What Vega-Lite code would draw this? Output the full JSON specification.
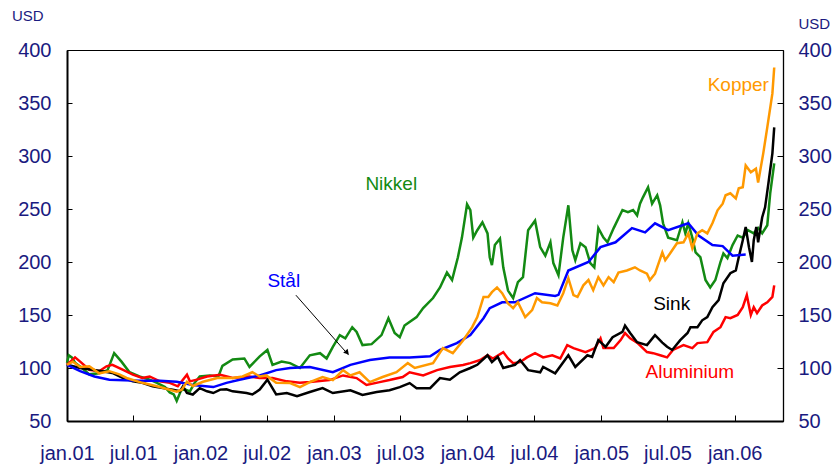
{
"$schema": "https://vega.github.io/schema/vega-lite/v6.json",
"width": 716, "height": 371,
"autosize": {"type": "none"},
"padding": {"left": 67, "top": 50, "right": 52, "bottom": 45},
"background": "white",
"config": {"view": {"stroke": "black", "strokeWidth": 1}, "font": "Liberation Sans"},
"datasets": {
"series": [
{"metal":"Nikkel","date":"2001-01-01","value":105},{"metal":"Nikkel","date":"2001-01-06","value":112},{"metal":"Nikkel","date":"2001-01-14","value":110},{"metal":"Nikkel","date":"2001-01-23","value":105},{"metal":"Nikkel","date":"2001-02-11","value":100},{"metal":"Nikkel","date":"2001-03-03","value":94},{"metal":"Nikkel","date":"2001-03-30","value":95},{"metal":"Nikkel","date":"2001-04-22","value":98},{"metal":"Nikkel","date":"2001-05-10","value":114},{"metal":"Nikkel","date":"2001-05-30","value":106},{"metal":"Nikkel","date":"2001-06-21","value":96},{"metal":"Nikkel","date":"2001-07-18","value":92},{"metal":"Nikkel","date":"2001-08-15","value":89},{"metal":"Nikkel","date":"2001-09-04","value":86},{"metal":"Nikkel","date":"2001-09-26","value":82},{"metal":"Nikkel","date":"2001-10-09","value":77},{"metal":"Nikkel","date":"2001-10-20","value":75},{"metal":"Nikkel","date":"2001-10-28","value":69},{"metal":"Nikkel","date":"2001-11-09","value":79},{"metal":"Nikkel","date":"2001-11-19","value":80},{"metal":"Nikkel","date":"2001-12-03","value":78},{"metal":"Nikkel","date":"2001-12-16","value":86},{"metal":"Nikkel","date":"2001-12-30","value":92},{"metal":"Nikkel","date":"2002-01-27","value":93},{"metal":"Nikkel","date":"2002-02-19","value":92},{"metal":"Nikkel","date":"2002-03-02","value":102},{"metal":"Nikkel","date":"2002-03-30","value":108},{"metal":"Nikkel","date":"2002-05-01","value":109},{"metal":"Nikkel","date":"2002-05-15","value":101},{"metal":"Nikkel","date":"2002-06-12","value":111},{"metal":"Nikkel","date":"2002-07-03","value":117},{"metal":"Nikkel","date":"2002-07-17","value":103},{"metal":"Nikkel","date":"2002-08-11","value":106},{"metal":"Nikkel","date":"2002-09-03","value":104.6},{"metal":"Nikkel","date":"2002-09-30","value":100},{"metal":"Nikkel","date":"2002-10-27","value":112},{"metal":"Nikkel","date":"2002-11-24","value":114},{"metal":"Nikkel","date":"2002-12-12","value":109},{"metal":"Nikkel","date":"2002-12-29","value":120},{"metal":"Nikkel","date":"2003-01-17","value":131},{"metal":"Nikkel","date":"2003-02-01","value":128},{"metal":"Nikkel","date":"2003-02-20","value":138.5},{"metal":"Nikkel","date":"2003-03-04","value":134},{"metal":"Nikkel","date":"2003-03-20","value":121.6},{"metal":"Nikkel","date":"2003-04-14","value":122.5},{"metal":"Nikkel","date":"2003-05-11","value":131},{"metal":"Nikkel","date":"2003-05-30","value":147},{"metal":"Nikkel","date":"2003-06-16","value":133},{"metal":"Nikkel","date":"2003-06-30","value":129},{"metal":"Nikkel","date":"2003-07-13","value":140},{"metal":"Nikkel","date":"2003-08-15","value":148},{"metal":"Nikkel","date":"2003-09-02","value":156.5},{"metal":"Nikkel","date":"2003-09-29","value":166},{"metal":"Nikkel","date":"2003-10-18","value":176},{"metal":"Nikkel","date":"2003-11-06","value":190},{"metal":"Nikkel","date":"2003-11-20","value":183},{"metal":"Nikkel","date":"2003-12-06","value":204.5},{"metal":"Nikkel","date":"2003-12-17","value":223},{"metal":"Nikkel","date":"2003-12-31","value":254.5},{"metal":"Nikkel","date":"2004-01-09","value":249},{"metal":"Nikkel","date":"2004-01-17","value":223},{"metal":"Nikkel","date":"2004-01-28","value":230},{"metal":"Nikkel","date":"2004-02-11","value":237.5},{"metal":"Nikkel","date":"2004-02-25","value":227},{"metal":"Nikkel","date":"2004-03-02","value":204.5},{"metal":"Nikkel","date":"2004-03-08","value":197},{"metal":"Nikkel","date":"2004-03-16","value":216},{"metal":"Nikkel","date":"2004-03-30","value":222},{"metal":"Nikkel","date":"2004-04-08","value":195},{"metal":"Nikkel","date":"2004-04-21","value":173},{"metal":"Nikkel","date":"2004-05-05","value":166},{"metal":"Nikkel","date":"2004-05-18","value":181},{"metal":"Nikkel","date":"2004-06-01","value":185.7},{"metal":"Nikkel","date":"2004-06-15","value":230},{"metal":"Nikkel","date":"2004-07-04","value":239},{"metal":"Nikkel","date":"2004-07-18","value":214},{"metal":"Nikkel","date":"2004-08-01","value":206},{"metal":"Nikkel","date":"2004-08-15","value":218.6},{"metal":"Nikkel","date":"2004-08-23","value":199},{"metal":"Nikkel","date":"2004-09-06","value":187.5},{"metal":"Nikkel","date":"2004-09-19","value":223},{"metal":"Nikkel","date":"2004-10-03","value":253.5},{"metal":"Nikkel","date":"2004-10-14","value":211},{"metal":"Nikkel","date":"2004-10-22","value":201.7},{"metal":"Nikkel","date":"2004-11-05","value":217.7},{"metal":"Nikkel","date":"2004-11-19","value":214},{"metal":"Nikkel","date":"2004-12-02","value":199},{"metal":"Nikkel","date":"2004-12-13","value":195},{"metal":"Nikkel","date":"2004-12-24","value":232},{"metal":"Nikkel","date":"2005-01-07","value":223},{"metal":"Nikkel","date":"2005-01-18","value":218.6},{"metal":"Nikkel","date":"2005-02-04","value":232},{"metal":"Nikkel","date":"2005-02-28","value":249},{"metal":"Nikkel","date":"2005-03-15","value":247},{"metal":"Nikkel","date":"2005-03-29","value":249},{"metal":"Nikkel","date":"2005-04-09","value":244},{"metal":"Nikkel","date":"2005-04-17","value":255},{"metal":"Nikkel","date":"2005-04-25","value":261},{"metal":"Nikkel","date":"2005-05-09","value":270.5},{"metal":"Nikkel","date":"2005-05-20","value":255},{"metal":"Nikkel","date":"2005-06-03","value":263},{"metal":"Nikkel","date":"2005-06-11","value":253.5},{"metal":"Nikkel","date":"2005-06-19","value":236.5},{"metal":"Nikkel","date":"2005-07-03","value":223},{"metal":"Nikkel","date":"2005-07-27","value":220.5},{"metal":"Nikkel","date":"2005-08-11","value":237.5},{"metal":"Nikkel","date":"2005-08-19","value":227},{"metal":"Nikkel","date":"2005-08-27","value":236.5},{"metal":"Nikkel","date":"2005-09-07","value":223},{"metal":"Nikkel","date":"2005-09-16","value":209},{"metal":"Nikkel","date":"2005-09-29","value":204.5},{"metal":"Nikkel","date":"2005-10-13","value":183},{"metal":"Nikkel","date":"2005-10-26","value":176},{"metal":"Nikkel","date":"2005-11-09","value":183},{"metal":"Nikkel","date":"2005-11-23","value":200},{"metal":"Nikkel","date":"2005-12-01","value":208},{"metal":"Nikkel","date":"2005-12-12","value":203.6},{"metal":"Nikkel","date":"2005-12-26","value":216},{"metal":"Nikkel","date":"2006-01-09","value":225},{"metal":"Nikkel","date":"2006-01-23","value":223},{"metal":"Nikkel","date":"2006-02-06","value":230},{"metal":"Nikkel","date":"2006-02-22","value":227},{"metal":"Nikkel","date":"2006-03-06","value":232},{"metal":"Nikkel","date":"2006-03-17","value":227},{"metal":"Nikkel","date":"2006-03-31","value":234.7},{"metal":"Nikkel","date":"2006-04-08","value":264.8},{"metal":"Nikkel","date":"2006-04-19","value":293},
{"metal":"Aluminium","date":"2001-01-01","value":103},{"metal":"Aluminium","date":"2001-01-23","value":110},{"metal":"Aluminium","date":"2001-02-06","value":106},{"metal":"Aluminium","date":"2001-03-03","value":98.4},{"metal":"Aluminium","date":"2001-03-30","value":97},{"metal":"Aluminium","date":"2001-04-19","value":101.6},{"metal":"Aluminium","date":"2001-05-05","value":103},{"metal":"Aluminium","date":"2001-06-02","value":98.4},{"metal":"Aluminium","date":"2001-06-30","value":93.7},{"metal":"Aluminium","date":"2001-07-26","value":90.6},{"metal":"Aluminium","date":"2001-08-15","value":92},{"metal":"Aluminium","date":"2001-09-12","value":87.4},{"metal":"Aluminium","date":"2001-10-09","value":86},{"metal":"Aluminium","date":"2001-10-31","value":82.7},{"metal":"Aluminium","date":"2001-11-14","value":89},{"metal":"Aluminium","date":"2001-11-25","value":93.7},{"metal":"Aluminium","date":"2001-12-03","value":87.4},{"metal":"Aluminium","date":"2001-12-22","value":89},{"metal":"Aluminium","date":"2002-01-19","value":92},{"metal":"Aluminium","date":"2002-02-24","value":93.7},{"metal":"Aluminium","date":"2002-03-30","value":90.6},{"metal":"Aluminium","date":"2002-05-15","value":92},{"metal":"Aluminium","date":"2002-06-12","value":90.6},{"metal":"Aluminium","date":"2002-07-17","value":90.6},{"metal":"Aluminium","date":"2002-08-25","value":87.4},{"metal":"Aluminium","date":"2002-09-30","value":86},{"metal":"Aluminium","date":"2002-10-27","value":86.7},{"metal":"Aluminium","date":"2002-12-20","value":88.6},{"metal":"Aluminium","date":"2003-01-26","value":93},{"metal":"Aluminium","date":"2003-03-04","value":90.5},{"metal":"Aluminium","date":"2003-03-31","value":84},{"metal":"Aluminium","date":"2003-05-06","value":86.7},{"metal":"Aluminium","date":"2003-06-02","value":88.6},{"metal":"Aluminium","date":"2003-07-08","value":91.5},{"metal":"Aluminium","date":"2003-07-27","value":96},{"metal":"Aluminium","date":"2003-09-02","value":93},{"metal":"Aluminium","date":"2003-10-10","value":98},{"metal":"Aluminium","date":"2003-11-14","value":101},{"metal":"Aluminium","date":"2003-12-20","value":102.8},{"metal":"Aluminium","date":"2004-01-09","value":104.6},{"metal":"Aluminium","date":"2004-02-05","value":107.5},{"metal":"Aluminium","date":"2004-02-25","value":112},{"metal":"Aluminium","date":"2004-03-11","value":109},{"metal":"Aluminium","date":"2004-04-08","value":115},{"metal":"Aluminium","date":"2004-04-21","value":109},{"metal":"Aluminium","date":"2004-05-05","value":104.6},{"metal":"Aluminium","date":"2004-05-24","value":105.5},{"metal":"Aluminium","date":"2004-06-12","value":110},{"metal":"Aluminium","date":"2004-07-04","value":114},{"metal":"Aluminium","date":"2004-07-26","value":110},{"metal":"Aluminium","date":"2004-08-20","value":112},{"metal":"Aluminium","date":"2004-09-11","value":109},{"metal":"Aluminium","date":"2004-09-30","value":121.6},{"metal":"Aluminium","date":"2004-10-17","value":118.8},{"metal":"Aluminium","date":"2004-11-19","value":115},{"metal":"Aluminium","date":"2004-12-15","value":118.8},{"metal":"Aluminium","date":"2004-12-30","value":128},{"metal":"Aluminium","date":"2005-01-07","value":118.8},{"metal":"Aluminium","date":"2005-02-04","value":118.8},{"metal":"Aluminium","date":"2005-02-23","value":126.3},{"metal":"Aluminium","date":"2005-03-07","value":133},{"metal":"Aluminium","date":"2005-03-21","value":128},{"metal":"Aluminium","date":"2005-04-09","value":124},{"metal":"Aluminium","date":"2005-05-06","value":115},{"metal":"Aluminium","date":"2005-05-23","value":114},{"metal":"Aluminium","date":"2005-06-11","value":112},{"metal":"Aluminium","date":"2005-06-30","value":110},{"metal":"Aluminium","date":"2005-07-16","value":117},{"metal":"Aluminium","date":"2005-08-14","value":121.6},{"metal":"Aluminium","date":"2005-09-07","value":118.8},{"metal":"Aluminium","date":"2005-09-21","value":123.5},{"metal":"Aluminium","date":"2005-10-18","value":124.4},{"metal":"Aluminium","date":"2005-11-04","value":134},{"metal":"Aluminium","date":"2005-11-23","value":138.5},{"metal":"Aluminium","date":"2005-12-07","value":148},{"metal":"Aluminium","date":"2005-12-20","value":147},{"metal":"Aluminium","date":"2006-01-09","value":150},{"metal":"Aluminium","date":"2006-01-23","value":157.4},{"metal":"Aluminium","date":"2006-02-03","value":168.7},{"metal":"Aluminium","date":"2006-02-14","value":150},{"metal":"Aluminium","date":"2006-02-22","value":157.4},{"metal":"Aluminium","date":"2006-03-03","value":151.7},{"metal":"Aluminium","date":"2006-03-17","value":159},{"metal":"Aluminium","date":"2006-03-31","value":162},{"metal":"Aluminium","date":"2006-04-14","value":167},{"metal":"Aluminium","date":"2006-04-19","value":178},
{"metal":"Sink","date":"2001-01-01","value":103},{"metal":"Sink","date":"2001-02-06","value":100},{"metal":"Sink","date":"2001-03-11","value":98.4},{"metal":"Sink","date":"2001-04-08","value":97},{"metal":"Sink","date":"2001-05-05","value":95.3},{"metal":"Sink","date":"2001-06-02","value":90.6},{"metal":"Sink","date":"2001-06-30","value":87.4},{"metal":"Sink","date":"2001-07-26","value":86},{"metal":"Sink","date":"2001-08-23","value":82.7},{"metal":"Sink","date":"2001-09-20","value":81},{"metal":"Sink","date":"2001-10-17","value":79.6},{"metal":"Sink","date":"2001-11-06","value":78},{"metal":"Sink","date":"2001-11-14","value":82.7},{"metal":"Sink","date":"2001-11-25","value":76.4},{"metal":"Sink","date":"2001-12-11","value":75},{"metal":"Sink","date":"2001-12-30","value":81},{"metal":"Sink","date":"2002-01-19","value":78},{"metal":"Sink","date":"2002-02-05","value":76.4},{"metal":"Sink","date":"2002-02-24","value":79.6},{"metal":"Sink","date":"2002-03-13","value":80},{"metal":"Sink","date":"2002-03-30","value":78},{"metal":"Sink","date":"2002-05-07","value":76.4},{"metal":"Sink","date":"2002-05-23","value":75},{"metal":"Sink","date":"2002-06-12","value":79.6},{"metal":"Sink","date":"2002-07-03","value":89},{"metal":"Sink","date":"2002-07-27","value":75},{"metal":"Sink","date":"2002-08-25","value":76.4},{"metal":"Sink","date":"2002-09-22","value":73.3},{"metal":"Sink","date":"2002-10-27","value":77.3},{"metal":"Sink","date":"2002-12-01","value":81},{"metal":"Sink","date":"2002-12-29","value":76.4},{"metal":"Sink","date":"2003-02-15","value":79},{"metal":"Sink","date":"2003-03-20","value":74.5},{"metal":"Sink","date":"2003-04-28","value":77.3},{"metal":"Sink","date":"2003-06-02","value":79},{"metal":"Sink","date":"2003-06-30","value":82},{"metal":"Sink","date":"2003-07-27","value":85.8},{"metal":"Sink","date":"2003-08-15","value":81},{"metal":"Sink","date":"2003-09-21","value":81},{"metal":"Sink","date":"2003-10-18","value":90.5},{"metal":"Sink","date":"2003-11-14","value":89},{"metal":"Sink","date":"2003-12-11","value":96},{"metal":"Sink","date":"2004-01-09","value":100},{"metal":"Sink","date":"2004-01-28","value":103},{"metal":"Sink","date":"2004-02-25","value":112},{"metal":"Sink","date":"2004-03-08","value":105.5},{"metal":"Sink","date":"2004-03-24","value":110.5},{"metal":"Sink","date":"2004-04-08","value":100},{"metal":"Sink","date":"2004-05-10","value":103},{"metal":"Sink","date":"2004-05-24","value":107.5},{"metal":"Sink","date":"2004-06-15","value":98},{"metal":"Sink","date":"2004-07-18","value":96},{"metal":"Sink","date":"2004-07-26","value":101},{"metal":"Sink","date":"2004-08-28","value":95},{"metal":"Sink","date":"2004-10-03","value":112},{"metal":"Sink","date":"2004-10-22","value":101},{"metal":"Sink","date":"2004-11-24","value":112},{"metal":"Sink","date":"2004-12-07","value":110.5},{"metal":"Sink","date":"2004-12-24","value":126.3},{"metal":"Sink","date":"2005-01-13","value":120},{"metal":"Sink","date":"2005-02-01","value":129},{"metal":"Sink","date":"2005-02-28","value":134},{"metal":"Sink","date":"2005-03-07","value":140},{"metal":"Sink","date":"2005-03-21","value":133},{"metal":"Sink","date":"2005-04-09","value":124.4},{"metal":"Sink","date":"2005-05-06","value":121.6},{"metal":"Sink","date":"2005-05-28","value":131},{"metal":"Sink","date":"2005-06-17","value":124},{"metal":"Sink","date":"2005-06-30","value":120},{"metal":"Sink","date":"2005-07-14","value":117},{"metal":"Sink","date":"2005-08-05","value":126.3},{"metal":"Sink","date":"2005-08-25","value":133},{"metal":"Sink","date":"2005-09-02","value":138.5},{"metal":"Sink","date":"2005-09-21","value":138.5},{"metal":"Sink","date":"2005-10-04","value":145},{"metal":"Sink","date":"2005-10-18","value":148},{"metal":"Sink","date":"2005-11-01","value":157.4},{"metal":"Sink","date":"2005-11-18","value":164},{"metal":"Sink","date":"2005-12-01","value":180},{"metal":"Sink","date":"2005-12-20","value":189.4},{"metal":"Sink","date":"2006-01-04","value":192},{"metal":"Sink","date":"2006-01-12","value":204.5},{"metal":"Sink","date":"2006-01-23","value":220.5},{"metal":"Sink","date":"2006-01-31","value":233},{"metal":"Sink","date":"2006-02-09","value":214},{"metal":"Sink","date":"2006-02-17","value":200},{"metal":"Sink","date":"2006-02-22","value":220.5},{"metal":"Sink","date":"2006-03-01","value":233},{"metal":"Sink","date":"2006-03-06","value":218.6},{"metal":"Sink","date":"2006-03-17","value":242},{"metal":"Sink","date":"2006-03-25","value":251.6},{"metal":"Sink","date":"2006-04-03","value":274},{"metal":"Sink","date":"2006-04-14","value":302.5},{"metal":"Sink","date":"2006-04-19","value":327},
{"metal":"Stål","date":"2001-01-01","value":103},{"metal":"Stål","date":"2001-02-06","value":97},{"metal":"Stål","date":"2001-03-17","value":92},{"metal":"Stål","date":"2001-04-27","value":89},{"metal":"Stål","date":"2001-07-18","value":88},{"metal":"Stål","date":"2001-09-12","value":88},{"metal":"Stål","date":"2001-10-28","value":87},{"metal":"Stål","date":"2001-12-11","value":84},{"metal":"Stål","date":"2002-02-05","value":82},{"metal":"Stål","date":"2002-03-13","value":86},{"metal":"Stål","date":"2002-04-18","value":89},{"metal":"Stål","date":"2002-06-12","value":93},{"metal":"Stål","date":"2002-07-27","value":98},{"metal":"Stål","date":"2002-09-03","value":100},{"metal":"Stål","date":"2002-10-27","value":101},{"metal":"Stål","date":"2002-12-29","value":96},{"metal":"Stål","date":"2003-02-15","value":103},{"metal":"Stål","date":"2003-04-09","value":107.5},{"metal":"Stål","date":"2003-06-02","value":110},{"metal":"Stål","date":"2003-07-27","value":110},{"metal":"Stål","date":"2003-09-21","value":111},{"metal":"Stål","date":"2003-10-18","value":117},{"metal":"Stål","date":"2003-12-03","value":123.5},{"metal":"Stål","date":"2004-01-09","value":131},{"metal":"Stål","date":"2004-02-14","value":147},{"metal":"Stål","date":"2004-03-02","value":156.5},{"metal":"Stål","date":"2004-04-05","value":162},{"metal":"Stål","date":"2004-05-10","value":162},{"metal":"Stål","date":"2004-07-04","value":170.6},{"metal":"Stål","date":"2004-08-28","value":168},{"metal":"Stål","date":"2004-09-06","value":169},{"metal":"Stål","date":"2004-10-03","value":192},{"metal":"Stål","date":"2004-11-27","value":200},{"metal":"Stål","date":"2004-12-30","value":214},{"metal":"Stål","date":"2005-02-09","value":218.6},{"metal":"Stål","date":"2005-03-26","value":232},{"metal":"Stål","date":"2005-05-01","value":228},{"metal":"Stål","date":"2005-05-28","value":236.5},{"metal":"Stål","date":"2005-07-03","value":230},{"metal":"Stål","date":"2005-08-27","value":236.5},{"metal":"Stål","date":"2005-09-24","value":225},{"metal":"Stål","date":"2005-11-01","value":216},{"metal":"Stål","date":"2005-11-29","value":215},{"metal":"Stål","date":"2005-12-26","value":206},{"metal":"Stål","date":"2006-01-31","value":207},
{"metal":"Kopper","date":"2001-01-01","value":103},{"metal":"Kopper","date":"2001-01-17","value":106},{"metal":"Kopper","date":"2001-02-06","value":101},{"metal":"Kopper","date":"2001-03-03","value":101.6},{"metal":"Kopper","date":"2001-03-30","value":95},{"metal":"Kopper","date":"2001-04-27","value":97},{"metal":"Kopper","date":"2001-05-24","value":94},{"metal":"Kopper","date":"2001-06-13","value":90.6},{"metal":"Kopper","date":"2001-07-26","value":86},{"metal":"Kopper","date":"2001-09-12","value":82},{"metal":"Kopper","date":"2001-10-28","value":77.6},{"metal":"Kopper","date":"2001-11-11","value":79.6},{"metal":"Kopper","date":"2001-11-25","value":87},{"metal":"Kopper","date":"2001-12-11","value":83},{"metal":"Kopper","date":"2002-01-08","value":87},{"metal":"Kopper","date":"2002-02-16","value":90.6},{"metal":"Kopper","date":"2002-03-30","value":90.6},{"metal":"Kopper","date":"2002-04-26","value":92},{"metal":"Kopper","date":"2002-05-23","value":96},{"metal":"Kopper","date":"2002-06-12","value":92},{"metal":"Kopper","date":"2002-06-30","value":93},{"metal":"Kopper","date":"2002-07-27","value":86},{"metal":"Kopper","date":"2002-09-03","value":85.8},{"metal":"Kopper","date":"2002-09-30","value":82},{"metal":"Kopper","date":"2002-10-27","value":86.7},{"metal":"Kopper","date":"2002-12-01","value":91.5},{"metal":"Kopper","date":"2002-12-29","value":88.6},{"metal":"Kopper","date":"2003-01-26","value":98},{"metal":"Kopper","date":"2003-02-15","value":93},{"metal":"Kopper","date":"2003-03-12","value":96},{"metal":"Kopper","date":"2003-04-09","value":86.7},{"metal":"Kopper","date":"2003-05-14","value":91.5},{"metal":"Kopper","date":"2003-06-21","value":96},{"metal":"Kopper","date":"2003-07-22","value":104.6},{"metal":"Kopper","date":"2003-08-10","value":100},{"metal":"Kopper","date":"2003-09-29","value":104.6},{"metal":"Kopper","date":"2003-10-26","value":118.8},{"metal":"Kopper","date":"2003-11-22","value":114},{"metal":"Kopper","date":"2003-12-20","value":126},{"metal":"Kopper","date":"2004-01-14","value":138.5},{"metal":"Kopper","date":"2004-01-28","value":148},{"metal":"Kopper","date":"2004-02-14","value":167},{"metal":"Kopper","date":"2004-02-27","value":167},{"metal":"Kopper","date":"2004-03-08","value":171.5},{"metal":"Kopper","date":"2004-03-22","value":176},{"metal":"Kopper","date":"2004-04-05","value":170.6},{"metal":"Kopper","date":"2004-04-21","value":161},{"metal":"Kopper","date":"2004-05-05","value":156.5},{"metal":"Kopper","date":"2004-05-18","value":162},{"metal":"Kopper","date":"2004-06-07","value":148},{"metal":"Kopper","date":"2004-06-26","value":154.6},{"metal":"Kopper","date":"2004-07-09","value":166},{"metal":"Kopper","date":"2004-07-23","value":162},{"metal":"Kopper","date":"2004-08-15","value":161},{"metal":"Kopper","date":"2004-09-03","value":159},{"metal":"Kopper","date":"2004-09-19","value":170.6},{"metal":"Kopper","date":"2004-10-03","value":184.7},{"metal":"Kopper","date":"2004-10-17","value":168.7},{"metal":"Kopper","date":"2004-10-28","value":167},{"metal":"Kopper","date":"2004-11-13","value":178},{"metal":"Kopper","date":"2004-11-27","value":183},{"metal":"Kopper","date":"2004-12-10","value":173.4},{"metal":"Kopper","date":"2004-12-24","value":185.7},{"metal":"Kopper","date":"2005-01-07","value":178},{"metal":"Kopper","date":"2005-01-21","value":185.7},{"metal":"Kopper","date":"2005-02-04","value":181},{"metal":"Kopper","date":"2005-02-17","value":190},{"metal":"Kopper","date":"2005-03-12","value":192},{"metal":"Kopper","date":"2005-04-03","value":195},{"metal":"Kopper","date":"2005-04-17","value":192},{"metal":"Kopper","date":"2005-05-06","value":189},{"metal":"Kopper","date":"2005-05-14","value":183},{"metal":"Kopper","date":"2005-05-28","value":189},{"metal":"Kopper","date":"2005-06-17","value":209},{"metal":"Kopper","date":"2005-06-25","value":201.7},{"metal":"Kopper","date":"2005-07-08","value":208},{"metal":"Kopper","date":"2005-07-27","value":217.7},{"metal":"Kopper","date":"2005-08-14","value":218.6},{"metal":"Kopper","date":"2005-08-27","value":227},{"metal":"Kopper","date":"2005-09-07","value":213},{"metal":"Kopper","date":"2005-09-21","value":227},{"metal":"Kopper","date":"2005-10-04","value":230},{"metal":"Kopper","date":"2005-10-18","value":227},{"metal":"Kopper","date":"2005-11-01","value":236.5},{"metal":"Kopper","date":"2005-11-15","value":248.8},{"metal":"Kopper","date":"2005-11-29","value":255},{"metal":"Kopper","date":"2005-12-07","value":263},{"metal":"Kopper","date":"2005-12-20","value":264.8},{"metal":"Kopper","date":"2006-01-04","value":260},{"metal":"Kopper","date":"2006-01-12","value":269.5},{"metal":"Kopper","date":"2006-01-23","value":270.5},{"metal":"Kopper","date":"2006-01-31","value":291},{"metal":"Kopper","date":"2006-02-14","value":284.6},{"metal":"Kopper","date":"2006-02-28","value":288},{"metal":"Kopper","date":"2006-03-06","value":275},{"metal":"Kopper","date":"2006-03-20","value":302.5},{"metal":"Kopper","date":"2006-03-31","value":327},{"metal":"Kopper","date":"2006-04-14","value":359},{"metal":"Kopper","date":"2006-04-19","value":383.5}
],
"labels": [
{"metal":"Nikkel","date":"2003-03-28","value":268.3},
{"metal":"Stål","date":"2002-07-03","value":176.2},
{"metal":"Kopper","date":"2005-10-19","value":360.9},
{"metal":"Sink","date":"2005-05-23","value":154.6},
{"metal":"Aluminium","date":"2005-05-02","value":90.2}
],
"arrow": [
{"date":"2002-09-19","value":168.7,"date2":"2003-02-10","value2":112.2}
],
"arrowhead": [
{"date":"2003-02-06","value":114.5}
]
},
"encoding": {
"x": {"field": "date", "type": "temporal",
  "scale": {"type": "utc", "domain": [{"year": 2001, "month": 1, "date": 1, "utc": true}, {"year": 2006, "month": 5, "date": 13, "utc": true}]},
  "axis": {"title": null, "grid": false,
    "values": [{"year":2001,"month":1,"date":1,"utc":true},{"year":2001,"month":7,"date":1,"utc":true},{"year":2002,"month":1,"date":1,"utc":true},{"year":2002,"month":7,"date":1,"utc":true},{"year":2003,"month":1,"date":1,"utc":true},{"year":2003,"month":7,"date":1,"utc":true},{"year":2004,"month":1,"date":1,"utc":true},{"year":2004,"month":7,"date":1,"utc":true},{"year":2005,"month":1,"date":1,"utc":true},{"year":2005,"month":7,"date":1,"utc":true},{"year":2006,"month":1,"date":1,"utc":true}],
    "labelExpr": "lower(utcFormat(datum.value, '%b')) + '.' + utcFormat(datum.value, '%y')",
    "labelFont": "Liberation Sans", "labelFontSize": 20, "labelColor": "#1a1a80",
    "labelFlush": false, "labelOverlap": false, "labelPadding": 28,
    "tickSize": -6, "tickColor": "black", "tickWidth": 1,
    "domainColor": "black", "domainWidth": 2}}
},
"layer": [
{"data": {"name": "series"},
 "mark": {"type": "line", "strokeWidth": 2.5, "clip": false},
 "encoding": {
  "y": {"field": "value", "type": "quantitative",
    "scale": {"domain": [50, 400], "nice": false, "zero": false},
    "axis": {"orient": "left", "values": [50,100,150,200,250,300,350,400], "grid": false,
      "labelFont": "Liberation Sans", "labelFontSize": 20, "labelColor": "#1a1a80", "labelPadding": 21,
      "tickSize": -5, "tickColor": "black", "tickWidth": 1, "domainColor": "black", "domainWidth": 2,
      "title": "USD", "titleAngle": 0, "titleFont": "Liberation Sans", "titleFontSize": 15, "titleFontWeight": "normal", "titleColor": "#1a1a80",
      "titleAlign": "left", "titleBaseline": "alphabetic", "titleX": -55.5, "titleY": -29.3}},
  "color": {"field": "metal", "type": "nominal", "legend": null,
    "scale": {"domain": ["Nikkel", "Aluminium", "Sink", "Stål", "Kopper"], "range": ["#138a13", "#ff0000", "#000000", "#0000ff", "#ff9900"]}},
  "order": {"field": "date", "type": "temporal"}
 }},
{"data": {"name": "labels"},
 "mark": {"type": "text", "align": "left", "baseline": "alphabetic", "font": "Liberation Sans", "fontSize": 19},
 "encoding": {
  "y": {"field": "value", "type": "quantitative",
    "axis": {"orient": "right", "values": [50,100,150,200,250,300,350,400], "grid": false,
      "labelFont": "Liberation Sans", "labelFontSize": 20, "labelColor": "#1a1a80", "labelPadding": 21,
      "tickSize": -6, "tickColor": "black", "tickWidth": 1, "domainColor": "black", "domainWidth": 1.3,
      "title": "USD", "titleAngle": 0, "titleFont": "Liberation Sans", "titleFontSize": 15, "titleFontWeight": "normal", "titleColor": "#1a1a80",
      "titleAlign": "left", "titleBaseline": "alphabetic", "titleX": 15, "titleY": -22}},
  "text": {"field": "metal"},
  "color": {"field": "metal", "type": "nominal", "legend": null}
 }},
{"data": {"name": "arrow"},
 "mark": {"type": "rule", "color": "black", "strokeWidth": 1},
 "encoding": {
  "y": {"field": "value", "type": "quantitative", "axis": null},
  "x2": {"field": "date2"},
  "y2": {"field": "value2"}
 }},
{"data": {"name": "arrowhead"},
 "mark": {"type": "point", "shape": "triangle-up", "filled": true, "color": "black", "opacity": 1, "angle": 139, "size": 35},
 "encoding": {
  "y": {"field": "value", "type": "quantitative", "axis": null}
 }}
],
"resolve": {"axis": {"y": "independent"}}
}
